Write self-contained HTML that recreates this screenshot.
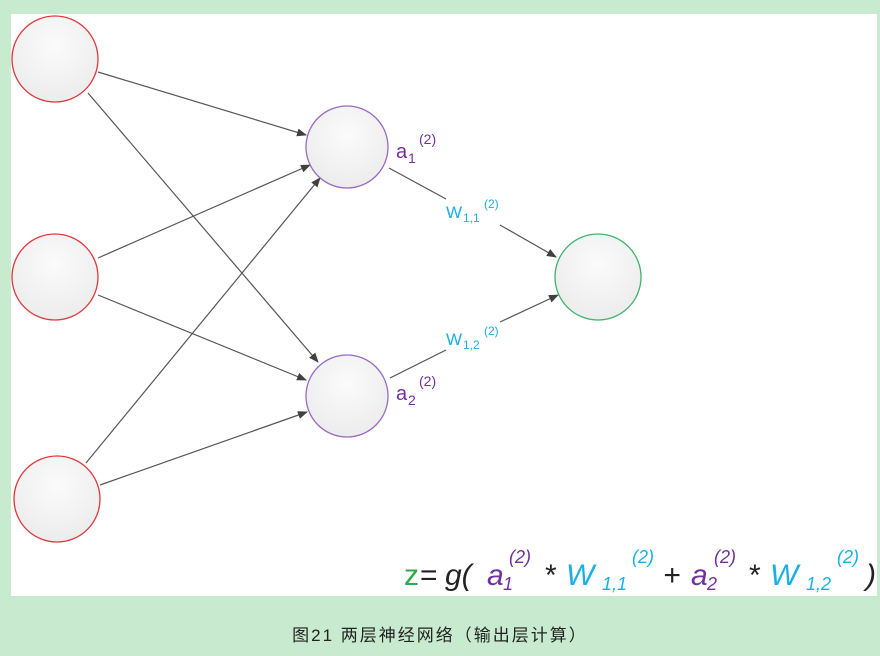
<!DOCTYPE html>
<html><head><meta charset="utf-8"><style>
html,body{margin:0;padding:0;background:#c8ebcf;}
body{width:880px;height:656px;position:relative;overflow:hidden;}
</style></head><body>
<svg width="880" height="656" xmlns="http://www.w3.org/2000/svg" style="position:absolute;left:0;top:0">
<defs>
<radialGradient id="g" cx="50%" cy="35%" r="65%"><stop offset="0" stop-color="#fbfbfb"/><stop offset="1" stop-color="#ececec"/></radialGradient>
<marker id="ar" markerWidth="10" markerHeight="8" refX="9" refY="4" orient="auto" markerUnits="userSpaceOnUse"><path d="M0,0 L10,4 L0,8 z" fill="#404040"/></marker>
</defs>
<rect x="11" y="14" width="866" height="582" fill="#fff"/>
<g stroke="#555" stroke-width="1.2" fill="none" marker-end="url(#ar)">
<line x1="98" y1="72" x2="306" y2="135"/>
<line x1="88" y1="93" x2="318" y2="362"/>
<line x1="98" y1="258" x2="310" y2="165"/>
<line x1="98" y1="295" x2="306" y2="380"/>
<line x1="86" y1="463" x2="320" y2="178"/>
<line x1="100" y1="485" x2="307" y2="412"/>
<line x1="500" y1="225" x2="556" y2="257"/>
<line x1="500" y1="322" x2="558" y2="295"/>
</g>
<g stroke="#555" stroke-width="1.2">
<line x1="389" y1="168" x2="446" y2="199"/>
<line x1="390" y1="378" x2="446" y2="350"/>
</g>
<g fill="url(#g)" stroke-width="1.3">
<circle cx="55" cy="59" r="43" stroke="#e0383c"/>
<circle cx="55" cy="277" r="43" stroke="#e0383c"/>
<circle cx="57" cy="499" r="43" stroke="#e0383c"/>
<circle cx="347" cy="147" r="41" stroke="#9a6bc4"/>
<circle cx="347" cy="396" r="41" stroke="#9a6bc4"/>
<circle cx="598" cy="277" r="43" stroke="#3cb56a"/>
</g>
<g font-family="Liberation Sans, sans-serif">
<text x="396" y="158" font-size="20" fill="#7030a0">a</text><text x="408" y="163" font-size="14" fill="#7030a0">1</text><text x="419" y="144" font-size="14" fill="#7030a0">(2)</text>
<text x="396" y="400" font-size="20" fill="#7030a0">a</text><text x="408" y="405" font-size="14" fill="#7030a0">2</text><text x="419" y="386" font-size="14" fill="#7030a0">(2)</text>
<text x="446" y="218" font-size="17" fill="#1ab0e6">W</text><text x="463" y="222" font-size="12" fill="#1ab0e6">1,1</text><text x="484" y="208" font-size="12" fill="#1ab0e6">(2)</text>
<text x="446" y="345" font-size="17" fill="#1ab0e6">W</text><text x="463" y="349" font-size="12" fill="#1ab0e6">1,2</text><text x="484" y="335" font-size="12" fill="#1ab0e6">(2)</text>
</g>
<g font-family="Liberation Sans, sans-serif" font-size="30">
<text x="404" y="585" fill="#2fa84f">z</text>
<text x="420" y="585" fill="#222">=</text>
<text x="445" y="585" fill="#222" font-style="italic">g(</text>
<text x="487" y="585" fill="#7030a0" font-style="italic">a</text>
<text x="503" y="590" font-size="18" fill="#7030a0" font-style="italic">1</text>
<text x="509" y="563" font-size="18" fill="#7030a0" font-style="italic">(2)</text>
<text x="545" y="585" fill="#222">*</text>
<text x="566" y="585" fill="#1ab0e6" font-style="italic">W</text>
<text x="602" y="590" font-size="18" fill="#1ab0e6" font-style="italic">1,1</text>
<text x="632" y="563" font-size="18" fill="#1ab0e6" font-style="italic">(2)</text>
<text x="663" y="585" fill="#222" font-style="italic">+</text>
<text x="691" y="585" fill="#7030a0" font-style="italic">a</text>
<text x="707" y="590" font-size="18" fill="#7030a0" font-style="italic">2</text>
<text x="714" y="563" font-size="18" fill="#7030a0" font-style="italic">(2)</text>
<text x="749" y="585" fill="#222">*</text>
<text x="770" y="585" fill="#1ab0e6" font-style="italic">W</text>
<text x="806" y="590" font-size="18" fill="#1ab0e6" font-style="italic">1,2</text>
<text x="837" y="563" font-size="18" fill="#1ab0e6" font-style="italic">(2)</text>
<text x="866" y="585" fill="#222" font-style="italic">)</text>
</g>
<text x="440" y="641" text-anchor="middle" font-size="17" letter-spacing="2" fill="#222" font-family="Liberation Sans, 'Noto Sans CJK SC', sans-serif">图21 两层神经网络（输出层计算）</text>
</svg>
</body></html>
